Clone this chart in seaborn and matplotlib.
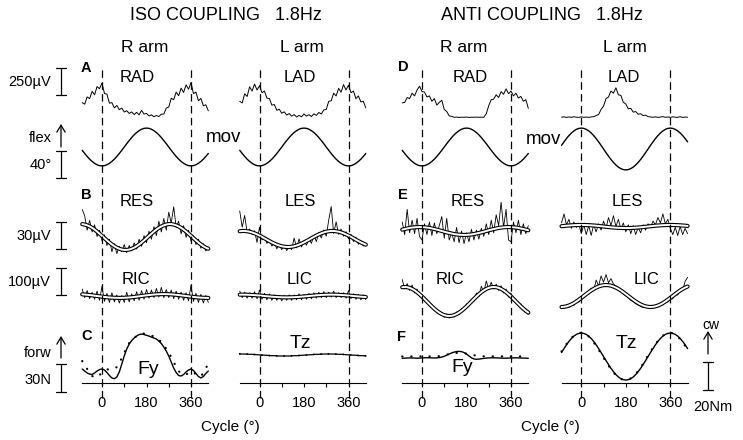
import matplotlib
matplotlib.use("Agg")
import matplotlib.pyplot as plt
import seaborn as sns

sns.set_style("white", {"axes.edgecolor": "black", "text.color": "black",
                        "xtick.color": "black", "xtick.bottom": True})
plt.rcParams['font.family'] = ['Liberation Sans', 'DejaVu Sans']

# cycle samples (deg)
CYCLE = list(range(-80, 431, 10))

# anterior deltoid EMG (uV above baseline)
RAD_ISO = [133, 119, 186, 170, 237, 206, 282, 262, 314, 217,
           212, 128, 133, 84, 107, 68, 83, 46, 58, 33,
           47, 23, 43, 20, 61, 27, 33, 10, 20, 2,
           14, 4, 26, 27, 83, 93, 173, 160, 231, 197,
           267, 227, 298, 257, 318, 216, 231, 150, 173, 104,
           113, 58]
LAD_ISO = [145, 130, 215, 190, 280, 240, 305, 250, 290, 225,
           240, 175, 170, 110, 115, 62, 72, 35, 48, 18,
           32, 8, 22, 0, 15, 2, 28, 8, 22, 4,
           30, 15, 42, 28, 65, 70, 145, 150, 220, 195,
           265, 230, 300, 250, 295, 225, 240, 170, 195, 140,
           145, 85]
RAD_ANTI = [135, 140, 185, 175, 225, 200, 255, 290, 240, 235,
            190, 200, 150, 175, 115, 140, 160, 75, 55, 15,
            10, 2, 4, 1, 3, 2, 4, 1, 3, 2,
            4, 2, 3, 2, 35, 110, 165, 170, 210, 185,
            240, 215, 265, 220, 245, 200, 225, 180, 195, 150,
            165, 85]
LAD_ANTI = [3, 6, 1, 5, 2, 7, 3, 1, 6, 2,
            4, 1, 5, 8, 18, 28, 75, 105, 175, 190,
            245, 225, 275, 210, 205, 140, 125, 80, 85, 50,
            55, 30, 35, 18, 22, 8, 5, 2, 6, 1,
            4, 8, 2, 5, 1, 6, 3, 2, 7, 1,
            4, 3]

# movement (deg, flexion up)
MOV = [-4.9, -9.6, -14.0, -18.0, -21.4, -24.2, -26.3, -27.6, -28.0, -27.6,
       -26.3, -24.2, -21.4, -18.0, -14.0, -9.6, -4.9, 0.0, 4.9, 9.6,
       14.0, 18.0, 21.4, 24.2, 26.3, 27.6, 28.0, 27.6, 26.3, 24.2,
       21.4, 18.0, 14.0, 9.6, 4.9, 0.0, -4.9, -9.6, -14.0, -18.0,
       -21.4, -24.2, -26.3, -27.6, -28.0, -27.6, -26.3, -24.2, -21.4, -18.0,
       -14.0, -9.6]
MOV_L_ANTI = [5.4, 10.6, 15.5, 19.9, 23.7, 26.8, 29.1, 30.5, 31.0, 30.5,
              29.1, 26.8, 23.7, 19.9, 15.5, 10.6, 5.4, 0.0, -5.4, -10.6,
              -15.5, -19.9, -23.7, -26.8, -29.1, -30.5, -31.0, -30.5, -29.1, -26.8,
              -23.7, -19.9, -15.5, -10.6, -5.4, 0.0, 5.4, 10.6, 15.5, 19.9,
              23.7, 26.8, 29.1, 30.5, 31.0, 30.5, 29.1, 26.8, 23.7, 19.9,
              15.5, 10.6]

# erector spinae EMG (uV) raw + fit
RES_ISO = [45, 38, 22, 33, 20, 28, 15, 22, 10, 17,
           5, 12, -2, 7, -4, 4, -2, 6, -3, 5,
           -1, 8, 1, 12, 4, 16, 8, 21, 12, 26,
           16, 32, 20, 35, 22, 42, 30, 48, 25, 32,
           18, 27, 14, 22, 10, 16, 6, 12, 2, 7,
           -1, 3]
RES_ISO_FIT = [28.8, 28.3, 27.4, 26.2, 24.6, 22.7, 20.5, 18.1, 15.7, 13.1,
               10.7, 8.3, 6.1, 4.2, 2.6, 1.4, 0.5, 0.1, 0.1, 0.5,
               1.4, 2.6, 4.2, 6.1, 8.3, 10.7, 13.1, 15.7, 18.1, 20.5,
               22.7, 24.6, 26.2, 27.4, 28.3, 28.8, 28.8, 28.3, 27.4, 26.2,
               24.6, 22.7, 20.5, 18.1, 15.7, 13.1, 10.7, 8.3, 6.1, 4.2,
               2.6, 1.4]
LES_ISO = [40, 22, 35, 16, 20, 14, 18, 5, 22, 8,
           12, 4, 8, 1, 5, -2, 3, -3, 2, -4,
           1, -3, 10, -1, 9, 0, 7, 2, 9, 4,
           13, 6, 16, 10, 19, 12, 30, 45, 15, 28,
           14, 20, 12, 17, 9, 14, 6, 11, 3, 7,
           1, 4]
LES_ISO_FIT = [17.5, 17.8, 17.8, 17.5, 17.0, 16.2, 15.2, 14.0, 12.7, 11.2,
               9.7, 8.1, 6.6, 5.1, 3.8, 2.6, 1.6, 0.8, 0.3, 0.0,
               0.0, 0.3, 0.8, 1.6, 2.6, 3.8, 5.1, 6.6, 8.1, 9.7,
               11.2, 12.7, 14.0, 15.2, 16.2, 17.0, 17.5, 17.8, 17.8, 17.5,
               17.0, 16.2, 15.2, 14.0, 12.7, 11.2, 9.7, 8.1, 6.6, 5.1,
               3.8, 2.6]
RES_ANTI = [10, -4, 24, -2, 12, -3, 14, -6, -10, 8,
            -4, 10, -5, 9, -3, 6, 16, -8, 14, -10,
            -2, -12, 4, -13, 0, -14, -2, -12, 2, -10,
            1, -9, 3, -6, 8, -4, 12, -2, 18, 6,
            32, 4, 24, -10, -12, 10, -2, 12, -4, 8,
            -3, 6]
RES_ANTI_FIT = [1.5, 2.2, 2.8, 3.4, 3.8, 4.1, 4.3, 4.4, 4.3, 4.1,
                3.8, 3.4, 2.8, 2.2, 1.5, 0.8, 0.0, -0.8, -1.5, -2.2,
                -2.8, -3.4, -3.8, -4.1, -4.3, -4.4, -4.3, -4.1, -3.8, -3.4,
                -2.8, -2.2, -1.5, -0.8, 0.0, 0.8, 1.5, 2.2, 2.8, 3.4,
                3.8, 4.1, 4.3, 4.4, 4.3, 4.1, 3.8, 3.4, 2.8, 2.2,
                1.5, 0.8]
LES_ANTI = [4, 14, 2, 8, -2, 5, -1, 3, -8, 2,
            -9, 1, -10, 2, -6, 3, -4, 6, -2, 10,
            1, 12, 0, 8, -3, 4, -6, 2, -8, 1,
            -9, -1, -7, 2, -4, 3, -1, 6, 2, 10,
            4, 14, 3, 8, -2, -9, -1, -10, 0, -9,
            -2, -8]
LES_ANTI_FIT = [0.3, 0.6, 0.9, 1.1, 1.3, 1.5, 1.6, 1.7, 1.7, 1.7,
                1.6, 1.5, 1.3, 1.1, 0.9, 0.6, 0.3, 0.0, -0.3, -0.6,
                -0.9, -1.1, -1.3, -1.5, -1.6, -1.7, -1.7, -1.7, -1.6, -1.5,
                -1.3, -1.1, -0.9, -0.6, -0.3, 0.0, 0.3, 0.6, 0.9, 1.1,
                1.3, 1.5, 1.6, 1.7, 1.7, 1.7, 1.6, 1.5, 1.3, 1.1,
                0.9, 0.6]

# internal oblique EMG (uV) raw + fit
RIC_ISO = [26, -6, 20, -10, 14, -12, 18, -16, 36, -20,
           10, -24, 12, -22, 4, -26, 2, -24, 14, -22,
           8, -18, 16, -16, 20, -12, 24, -8, 22, -6,
           28, -4, 32, -6, 24, -6, 22, -10, 18, -12,
           14, -16, 12, -18, 40, -20, 10, -24, 6, -26,
           2, -24]
RIC_ISO_FIT = [6.1, 5.4, 4.5, 3.5, 2.4, 1.2, 0.0, -1.2, -2.4, -3.5,
               -4.5, -5.4, -6.1, -6.6, -6.9, -7.0, -6.9, -6.6, -6.1, -5.4,
               -4.5, -3.5, -2.4, -1.2, 0.0, 1.2, 2.4, 3.5, 4.5, 5.4,
               6.1, 6.6, 6.9, 7.0, 6.9, 6.6, 6.1, 5.4, 4.5, 3.5,
               2.4, 1.2, 0.0, -1.2, -2.4, -3.5, -4.5, -5.4, -6.1, -6.6,
               -6.9, -7.0]
LIC_ISO = [18, -6, 14, -8, 12, -8, 16, -10, 22, -12,
           10, -14, 8, -16, 4, -16, 2, -18, 2, -16,
           4, -16, 4, -14, 8, -14, 6, -12, 10, -10,
           12, -8, 14, -6, 16, -6, 14, -4, 18, -6,
           12, -6, 12, -8, 20, -10, 8, -12, 6, -14,
           4, -14]
LIC_ISO_FIT = [4.9, 5.0, 4.9, 4.7, 4.3, 3.8, 3.2, 2.5, 1.7, 0.9,
               0.0, -0.9, -1.7, -2.5, -3.2, -3.8, -4.3, -4.7, -4.9, -5.0,
               -4.9, -4.7, -4.3, -3.8, -3.2, -2.5, -1.7, -0.9, 0.0, 0.9,
               1.7, 2.5, 3.2, 3.8, 4.3, 4.7, 4.9, 5.0, 4.9, 4.7,
               4.3, 3.8, 3.2, 2.5, 1.7, 0.9, 0.0, -0.9, -1.7, -2.5,
               -3.2, -3.8]
RIC_ANTI = [135, 100, 120, 95, 115, 85, 100, 72, 80, 55,
            60, 38, 42, 20, 25, 5, 12, -5, 8, -8,
            6, -4, 15, 5, 28, 20, 45, 38, 62, 55,
            85, 72, 110, 88, 130, 98, 125, 100, 118, 95,
            112, 85, 100, 70, 85, 55, 62, 38, 45, 20,
            28, 5]
RIC_ANTI_FIT = [106.6, 107.4, 106.6, 104.2, 100.2, 94.8, 88.2, 80.6, 72.1, 63.0,
                53.7, 44.4, 35.3, 26.9, 19.2, 12.6, 7.2, 3.2, 0.8, 0.0,
                0.8, 3.2, 7.2, 12.6, 19.2, 26.9, 35.3, 44.4, 53.7, 63.0,
                72.1, 80.6, 88.2, 94.8, 100.2, 104.2, 106.6, 107.4, 106.6, 104.2,
                100.2, 94.8, 88.2, 80.6, 72.1, 63.0, 53.7, 44.4, 35.3, 26.9,
                19.2, 12.6]
LIC_ANTI = [5, -4, 8, -2, 14, 6, 22, 18, 30, 35,
            44, 50, 70, 60, 100, 78, 115, 92, 120, 90,
            105, 85, 78, 70, 58, 48, 42, 35, 25, 20,
            12, 8, 2, -2, 5, -4, 3, -3, 6, 0,
            14, 8, 25, 18, 36, 30, 52, 44, 66, 62,
            95, 110]
LIC_ANTI_FIT = [0.0, 0.6, 2.4, 5.5, 9.5, 14.5, 20.4, 26.8, 33.6, 40.7,
                47.8, 54.6, 61.1, 66.9, 71.9, 75.9, 79.0, 80.8, 81.4, 80.8,
                79.0, 75.9, 71.9, 66.9, 61.1, 54.6, 47.8, 40.7, 33.6, 26.8,
                20.4, 14.5, 9.5, 5.5, 2.4, 0.6, 0.0, 0.6, 2.4, 5.5,
                9.5, 14.5, 20.4, 26.8, 33.6, 40.7, 47.8, 54.6, 61.1, 66.9,
                71.9, 75.9]

# forces (N) and torques (Nm): solid and dotted
FY_ISO = [15.0, 12.8, 10.7, 9.6, 9.1, 10.7, 12.8, 14.4, 15.0, 13.9,
          11.2, 8.0, 5.4, 4.6, 6.4, 11.8, 20.3, 28.9, 36.4, 41.7,
          45.5, 48.2, 50.3, 51.9, 52.4, 51.9, 51.1, 50.3, 49.2, 48.2,
          47.1, 44.9, 42.3, 38.5, 34.2, 28.9, 22.5, 16.0, 11.2, 8.0,
          7.5, 9.1, 11.8, 13.9, 15.0, 13.4, 10.2, 7.0, 5.4, 7.0,
          10.2, 12.8]
FY_ISO_DOT = [23.5, 19.3, 15.0, 10.7, 7.5, 5.9, 6.4, 8.6, 10.7, 12.8,
              14.4, 15.0, 15.0, 15.5, 17.1, 21.4, 26.8, 32.1, 38.5, 42.8,
              46.0, 48.2, 50.3, 51.9, 53.0, 53.0, 52.4, 51.9, 50.8, 49.8,
              48.2, 46.5, 43.9, 40.7, 36.4, 32.1, 27.8, 22.5, 17.1, 12.8,
              10.2, 8.6, 9.1, 10.7, 12.3, 11.8, 9.1, 7.0, 7.5, 10.7,
              16.1, 20.3]
TZ_ISO = [20.7, 20.7, 20.7, 20.6, 20.5, 20.5, 20.4, 20.2, 20.1, 20.0,
          19.9, 19.8, 19.6, 19.5, 19.5, 19.4, 19.3, 19.3, 19.3, 19.3,
          19.3, 19.4, 19.5, 19.5, 19.6, 19.8, 19.9, 20.0, 20.1, 20.2,
          20.4, 20.5, 20.5, 20.6, 20.7, 20.7, 20.7, 20.7, 20.7, 20.6,
          20.5, 20.5, 20.4, 20.2, 20.1, 20.0, 19.9, 19.8, 19.6, 19.5,
          19.5, 19.4]
TZ_ISO_DOT = [20.9, 20.8, 20.7, 20.7, 20.6, 20.4, 20.3, 20.2, 20.0, 19.9,
              19.8, 19.7, 19.6, 19.4, 19.4, 19.3, 19.2, 19.2, 19.3, 19.3,
              19.4, 19.4, 19.5, 19.6, 19.7, 19.8, 19.9, 20.0, 20.2, 20.3,
              20.4, 20.5, 20.6, 20.7, 20.7, 20.8, 20.8, 20.8, 20.7, 20.6,
              20.6, 20.5, 20.4, 20.3, 20.1, 20.0, 19.9, 19.8, 19.7, 19.6,
              19.5, 19.4]
FY_ANTI = [26.5, 26.6, 26.8, 26.9, 26.8, 26.7, 26.6, 26.7, 26.9, 27.0,
           27.1, 27.0, 26.9, 26.8, 26.9, 27.2, 27.8, 28.6, 29.8, 31.0,
           32.2, 33.1, 33.7, 33.9, 33.6, 32.6, 31.0, 29.0, 27.0, 25.8,
           25.4, 25.6, 26.0, 26.4, 26.7, 26.9, 27.0, 27.0, 26.9, 26.8,
           26.7, 26.6, 26.6, 26.7, 26.8, 26.9, 27.0, 26.9, 26.8, 26.7,
           26.6, 26.5]
FY_ANTI_DOT = [28.4, 28.6, 28.5, 28.3, 28.5, 28.6, 28.4, 28.5, 28.6, 28.5,
               28.4, 28.5, 28.6, 28.5, 28.6, 28.8, 29.2, 29.8, 30.4, 31.0,
               31.5, 31.9, 32.2, 32.3, 32.2, 31.9, 31.5, 31.0, 30.4, 29.8,
               29.3, 28.9, 28.7, 28.6, 28.5, 28.4, 28.5, 28.6, 28.5, 28.4,
               28.5, 28.6, 28.5, 28.4, 28.5, 28.6, 28.5, 28.4, 28.5, 28.6,
               28.5, 28.4]
TZ_ANTI = [21.8, 24.6, 27.3, 29.7, 31.8, 33.5, 34.7, 35.4, 35.7, 35.4,
           34.7, 33.5, 31.8, 29.7, 27.3, 24.6, 21.8, 18.9, 16.0, 13.2,
           10.5, 8.1, 6.0, 4.3, 3.1, 2.4, 2.1, 2.4, 3.1, 4.3,
           6.0, 8.1, 10.5, 13.2, 16.0, 18.9, 21.8, 24.6, 27.3, 29.7,
           31.8, 33.5, 34.7, 35.4, 35.7, 35.4, 34.7, 33.5, 31.8, 29.7,
           27.3, 24.6]
TZ_ANTI_DOT = [22.5, 25.2, 27.8, 30.1, 32.2, 33.8, 35.0, 35.6, 35.8, 35.5,
               34.6, 33.2, 31.3, 29.0, 26.5, 23.8, 21.0, 18.1, 15.2, 12.4,
               9.9, 7.6, 5.6, 4.0, 2.9, 2.3, 2.1, 2.5, 3.3, 4.6,
               6.4, 8.6, 11.1, 13.8, 16.7, 19.6, 22.5, 25.2, 27.8, 30.1,
               32.2, 33.8, 35.0, 35.6, 35.8, 35.5, 34.6, 33.2, 31.3, 29.0,
               26.5, 23.8]

W, H = 743, 440
PX_PER_DEG = 89 / 360
COL_ZERO = [102, 259.5, 422, 581.3]
X0, X1 = -80, 430

fig = plt.figure(figsize=(W / 100, H / 100), dpi=100)
over = fig.add_axes([0, 0, 1, 1])
over.set_xlim(0, W)
over.set_ylim(H, 0)
over.axis('off')


def band(col, base, upp, top, bottom):
    # axes strip whose y scale gives `upp` units per pixel, value 0 at `base`
    left = COL_ZERO[col] + X0 * PX_PER_DEG
    ax = fig.add_axes([left / W, 1 - bottom / H, (X1 - X0) * PX_PER_DEG / W, (bottom - top) / H])
    ax.set_xlim(X0, X1)
    ax.set_ylim((base - bottom) * upp, (base - top) * upp)
    ax.axis('off')
    return ax


def trace(ax, y, lw=0.8, color='black', ls='-'):
    sns.lineplot(x=CYCLE, y=y, ax=ax, color=color, linewidth=lw, linestyle=ls,
                 estimator=None, legend=False, dash_capstyle='round')
    ax.lines[-1].set_clip_on(False)


def emg(ax, raw, fit):
    trace(ax, raw, lw=0.6)
    trace(ax, fit, lw=3.0)
    trace(ax, fit, lw=1.4, color='white')


UV_A = 250 / 27
DEG = 40 / 27
UV_B = 30 / 27
UV_C = 100 / 27
NEWTON = 30 / 28
NM = 20 / 28

# row A / D
trace(band(0, 117, UV_A, 60, 125), RAD_ISO, lw=0.7)
trace(band(1, 117, UV_A, 60, 125), LAD_ISO, lw=0.7)
trace(band(2, 117.5, UV_A, 60, 125), RAD_ANTI, lw=0.7)
trace(band(3, 117.5, UV_A, 60, 125), LAD_ANTI, lw=0.7)
# movement
trace(band(0, 147, DEG, 118, 178), MOV, lw=1.0)
trace(band(1, 147, DEG, 118, 178), MOV, lw=1.0)
trace(band(2, 147, DEG, 118, 178), MOV, lw=1.0)
trace(band(3, 149, DEG, 118, 178), MOV_L_ANTI, lw=1.0)
# row B / E
emg(band(0, 250, UV_B, 195, 262), RES_ISO, RES_ISO_FIT)
emg(band(1, 247, UV_B, 195, 262), LES_ISO, LES_ISO_FIT)
emg(band(2, 231, UV_B, 195, 262), RES_ANTI, RES_ANTI_FIT)
emg(band(3, 226.5, UV_B, 195, 262), LES_ANTI, LES_ANTI_FIT)
emg(band(0, 296, UV_C, 255, 325), RIC_ISO, RIC_ISO_FIT)
emg(band(1, 296, UV_C, 255, 325), LIC_ISO, LIC_ISO_FIT)
emg(band(2, 316, UV_C, 255, 325), RIC_ANTI, RIC_ANTI_FIT)
emg(band(3, 307, UV_C, 255, 325), LIC_ANTI, LIC_ANTI_FIT)
# row C / F
dots = (0, (0.1, 4))
ax = band(0, 383, NEWTON, 320, 390)
trace(ax, FY_ISO_DOT, lw=1.6, ls=dots)
trace(ax, FY_ISO, lw=1.0)
ax = band(1, 383, NM, 320, 390)
trace(ax, TZ_ISO_DOT, lw=1.3, ls=dots)
trace(ax, TZ_ISO, lw=0.9)
ax = band(2, 383, NEWTON, 320, 390)
trace(ax, FY_ANTI_DOT, lw=1.6, ls=dots)
trace(ax, FY_ANTI, lw=1.0)
ax = band(3, 383, NM, 320, 390)
trace(ax, TZ_ANTI_DOT, lw=1.6, ls=dots)
trace(ax, TZ_ANTI, lw=1.0)

# cycle axes with dashed 0/360 markers
for col in range(4):
    left = COL_ZERO[col] + X0 * PX_PER_DEG
    fr = fig.add_axes([left / W, 1 - 383 / H, (X1 - X0) * PX_PER_DEG / W, (383 - 62) / H])
    fr.patch.set_visible(False)
    fr.set_xlim(X0, X1)
    fr.set_ylim(0, 1)
    sns.despine(ax=fr, left=True)
    fr.spines['bottom'].set_linewidth(0.8)
    fr.set_yticks([])
    fr.set_xticks([0, 90, 180, 270, 360])
    fr.set_xticklabels(['0', '', '180', '', '360'])
    fr.tick_params(axis='x', direction='out', length=3, width=0.8, pad=6, labelsize=10.5)
    for x in (0, 360):
        fr.axvline(x, ymin=(383 - 398) / 321, ymax=(383 - 68) / 321, color='black',
                   lw=0.9, ls=(0, (6, 3.5)), clip_on=False)

# titles and labels
kw = dict(ha='center', va='center')
over.text(226, 16, 'ISO COUPLING   1.8Hz', fontsize=13, **kw)
over.text(542, 16, 'ANTI COUPLING   1.8Hz', fontsize=13, **kw)
for x, s in [(145, 'R arm'), (302, 'L arm'), (464, 'R arm'), (625, 'L arm')]:
    over.text(x, 47, s, fontsize=12.5, **kw)
for x, y, s in [(86, 68, 'A'), (86, 195, 'B'), (87, 336, 'C'),
                (403, 67, 'D'), (403, 195, 'E'), (402, 337, 'F')]:
    over.text(x, y, s, fontsize=10.5, fontweight='bold', **kw)
for x, y, s in [(137, 78, 'RAD'), (300, 78, 'LAD'), (470, 78, 'RAD'), (624, 78, 'LAD'),
                (137, 202, 'RES'), (300, 202, 'LES'), (468, 202, 'RES'), (627, 202, 'LES'),
                (136, 280, 'RIC'), (300, 280, 'LIC'), (450, 280, 'RIC'), (647, 280, 'LIC')]:
    over.text(x, y, s, fontsize=12, **kw)
for x, y, s in [(148, 370, 'Fy'), (300, 343, 'Tz'), (462, 368, 'Fy'), (626, 343, 'Tz')]:
    over.text(x, y, s, fontsize=14, **kw)
over.text(223, 137, 'mov', fontsize=13.5, **kw)
over.text(543, 140, 'mov', fontsize=13.5, **kw)
over.text(230, 427, 'Cycle (°)', fontsize=11, **kw)
over.text(550, 427, 'Cycle (°)', fontsize=11, **kw)

# scale bars
for x, y0, y1 in [(61, 68, 95), (61, 151, 178), (61, 222, 249), (61, 268, 295),
                  (61, 364, 392), (708, 362, 390)]:
    over.plot([x, x], [y0, y1], color='black', lw=0.9)
    over.plot([x - 5, x + 5], [y0, y0], color='black', lw=0.9)
    over.plot([x - 5, x + 5], [y1, y1], color='black', lw=0.9)
for x, y, s in [(51, 82, '250µV'), (52, 138, 'flex'), (52, 165, '40°'), (51, 236, '30µV'),
                (51, 282, '100µV'), (52, 353, 'forw'), (51, 380, '30N')]:
    over.text(x, y, s, fontsize=10.5, ha='right', va='center')
over.text(711, 325, 'cw', fontsize=10, **kw)
over.text(713, 407, '20Nm', fontsize=10.5, **kw)
for x, y0, y1 in [(61, 147, 124), (61, 358, 336), (708, 354, 331)]:
    over.annotate('', xy=(x, y1), xytext=(x, y0),
                  arrowprops=dict(arrowstyle='->,head_length=0.5,head_width=0.3',
                                  lw=0.9, color='black', shrinkA=0, shrinkB=0))

fig.savefig('out.png', dpi=100)
